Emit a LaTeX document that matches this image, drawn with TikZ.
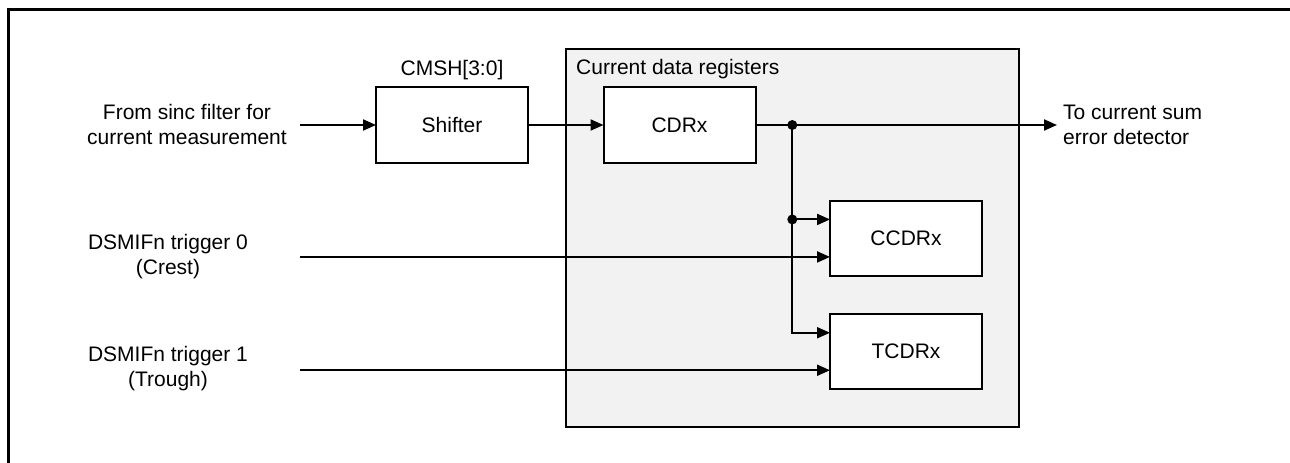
\documentclass[tikz,border=0pt]{standalone}
\usepackage{fontspec}
\setmainfont{Liberation Sans}
\usetikzlibrary{arrows.meta,calc}
\definecolor{regfill}{HTML}{F2F2F2}
\begin{document}
\begin{tikzpicture}[x=1pt,y=-1pt,
  every node/.style={font=\fontsize{21}{25}\selectfont},
  blk/.style={draw,line width=2pt,fill=white,minimum width=152pt,minimum height=76pt,inner sep=0pt,outer sep=0pt},
  lbl/.style={align=center,inner sep=0pt},
  arr/.style={line width=2pt,-{Triangle[length=13pt,width=11pt]}},
  wire/.style={line width=2pt},
  dot/.style={circle,fill=black,inner sep=0pt,minimum size=10pt}]
\useasboundingbox (0,0) rectangle (1290,463);
% outer frame (only left and top visible)
\draw[line width=3pt] (8,470) -- (8,9.5) -- (1300,9.5);
% container
\draw[line width=2pt,fill=regfill] (565.7,49.3) rectangle (1019.3,427);
\node[anchor=base west,inner sep=0pt] (contlbl) at (576,74) {Current data registers};
% blocks
\node[blk] (shifter) at (452,125) {Shifter};
\node[anchor=base,inner sep=0pt] (cmsh) at (452,75.5) {CMSH[3:0]};
\node[blk] (cdrx) at (679.5,125) {CDRx};
\node[blk,minimum height=75pt] (ccdrx) at (906,238.2) {CCDRx};
\node[blk,minimum height=75pt] (tcdrx) at (906,351.5) {TCDRx};
% labels
\node[lbl] (src) at (187,124.5) {From sinc filter for\\current measurement};
\node[lbl] (trg0) at (168,257) {DSMIFn trigger 0\\(Crest)};
\node[lbl] (trg1) at (168,369) {DSMIFn trigger 1\\(Trough)};
\node[lbl,align=left,anchor=west] (dst) at (1063,124.5) {To current sum\\error detector};
% coordinates
\coordinate (srcend) at (300,125);
\coordinate (outend) at (1057,125);
\coordinate (j1) at (792.3,125);
\coordinate (cin1) at ($(ccdrx.north west)!0.25!(ccdrx.south west)$);
\coordinate (cin2) at ($(ccdrx.north west)!0.75!(ccdrx.south west)$);
\coordinate (tin1) at ($(tcdrx.north west)!0.25!(tcdrx.south west)$);
\coordinate (tin2) at ($(tcdrx.north west)!0.75!(tcdrx.south west)$);
\coordinate (t0end) at ($(cin2)+(-530,0)$);
\coordinate (t1end) at ($(tin2)+(-530,0)$);
\coordinate (j2) at (j1 |- cin1);
% connectors
\draw[arr] (srcend) -- (shifter.west);
\draw[arr] (shifter.east) -- (cdrx.west);
\draw[arr] (cdrx.east) -- (outend);
\draw[wire] (j1) -- (j2);
\draw[arr] (j2) -- (cin1);
\draw[arr] (j2) |- (tin1);
\draw[arr] (t0end) -- (cin2);
\draw[arr] (t1end) -- (tin2);
\node[dot] at (j1) {};
\node[dot] at (j2) {};
\end{tikzpicture}
\end{document}
